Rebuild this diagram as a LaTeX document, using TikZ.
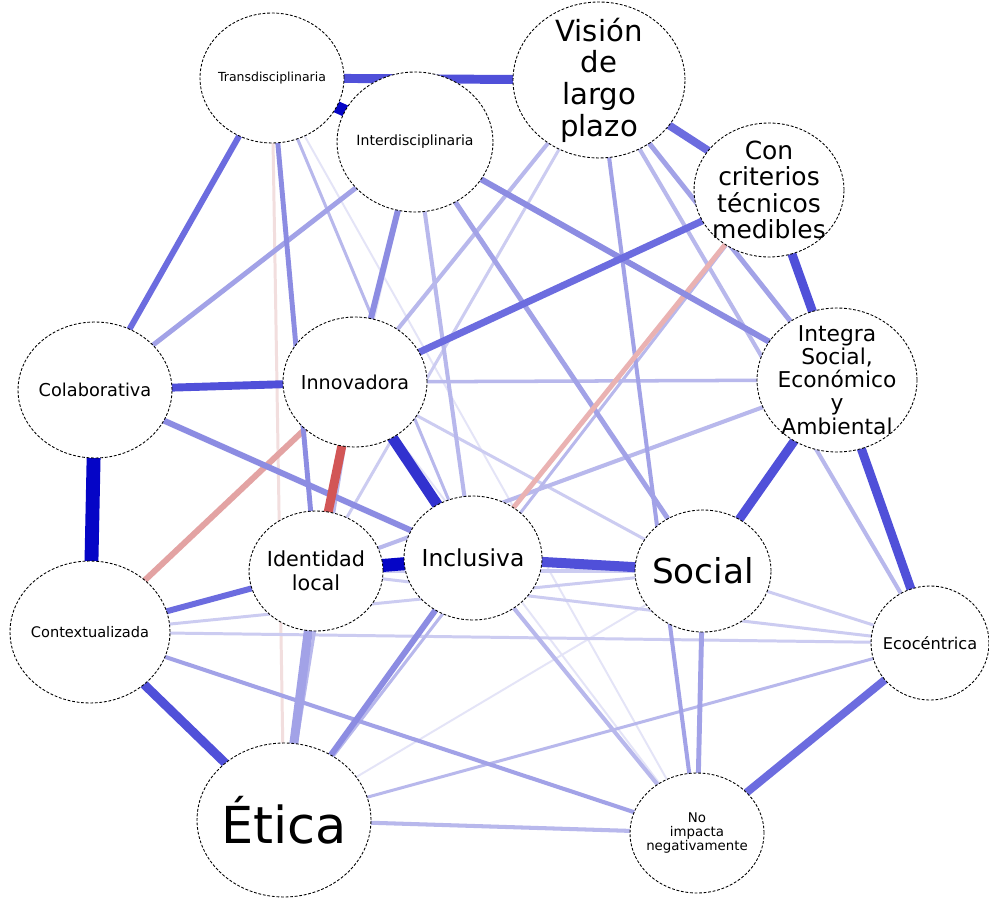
\documentclass[tikz,border=0pt]{standalone}
\usepackage{fontspec}
\setmainfont{DejaVu Sans}
\usetikzlibrary{shapes.geometric,backgrounds}
\definecolor{vfaint}{HTML}{E4E4F7}
\definecolor{faint}{HTML}{CCCCF1}
\definecolor{light}{HTML}{B8B8EC}
\definecolor{midl}{HTML}{A2A2E7}
\definecolor{mid}{HTML}{8C8CE2}
\definecolor{strA}{HTML}{6C6CDF}
\definecolor{strB}{HTML}{5050D9}
\definecolor{strC}{HTML}{3232CF}
\definecolor{deep}{HTML}{0505C6}
\definecolor{redS}{HTML}{D25656}
\definecolor{redM}{HTML}{E3A3A3}
\definecolor{redL}{HTML}{EAB2B2}
\definecolor{redF}{HTML}{F2DEDE}
\tikzset{
  nd/.style={ellipse, draw=black, line width=0.5pt, dash pattern=on 1.6pt off 1pt, fill=white, inner sep=0pt},
  lbl/.style={align=center, inner sep=0pt, text=black},
  ed/.style 2 args={line width=#1, draw=#2}
}
\begin{document}
\begin{tikzpicture}[x=0.02cm,y=-0.02cm]
\useasboundingbox (0,0) rectangle (989,898);
% nodes
\node[nd, minimum width=2.88cm, minimum height=2.60cm] (trans) at (272,78) {};
\node[nd, minimum width=3.44cm, minimum height=3.12cm] (vision) at (599,80) {};
\node[nd, minimum width=3.12cm, minimum height=2.80cm] (inter) at (415,142) {};
\node[nd, minimum width=3.00cm, minimum height=2.68cm] (con) at (769,190) {};
\node[nd, minimum width=3.08cm, minimum height=2.72cm] (colab) at (95,390) {};
\node[nd, minimum width=2.88cm, minimum height=2.60cm] (innov) at (355,382) {};
\node[nd, minimum width=3.20cm, minimum height=2.88cm] (integra) at (837,380) {};
\node[nd, minimum width=2.68cm, minimum height=2.40cm] (ident) at (316,571) {};
\node[nd, minimum width=2.76cm, minimum height=2.48cm] (incl) at (473,558) {};
\node[nd, minimum width=2.72cm, minimum height=2.44cm] (social) at (703,571) {};
\node[nd, minimum width=3.20cm, minimum height=2.84cm] (context) at (90,632) {};
\node[nd, minimum width=2.36cm, minimum height=2.28cm] (eco) at (930,643) {};
\node[nd, minimum width=3.48cm, minimum height=3.08cm] (etica) at (284,820) {};
\node[nd, minimum width=2.68cm, minimum height=2.40cm] (noimp) at (697,833) {};
% labels
\node[lbl, font=\fontsize{7.1pt}{8pt}\selectfont] (trans-t) at (trans) {Transdisciplinaria};
\node[lbl, font=\fontsize{16.6pt}{18pt}\selectfont] (vision-t) at (vision) {Visión\\de\\largo\\plazo};
\node[lbl, font=\fontsize{8pt}{9pt}\selectfont] (inter-t) at (inter) {Interdisciplinaria};
\node[lbl, font=\fontsize{14.2pt}{15.1pt}\selectfont] (con-t) at (con) {Con\\criterios\\técnicos\\medibles};
\node[lbl, font=\fontsize{10.1pt}{11pt}\selectfont] (colab-t) at (colab) {Colaborativa};
\node[lbl, font=\fontsize{10.9pt}{12pt}\selectfont] (innov-t) at (innov) {Innovadora};
\node[lbl, font=\fontsize{12.4pt}{13.2pt}\selectfont] (integra-t) at (integra) {Integra\\Social,\\Económico\\y\\Ambiental};
\node[lbl, font=\fontsize{11.8pt}{13.5pt}\selectfont] (ident-t) at (ident) {Identidad\\local};
\node[lbl, font=\fontsize{13.3pt}{14pt}\selectfont] (incl-t) at (incl) {Inclusiva};
\node[lbl, font=\fontsize{19.5pt}{21pt}\selectfont] (social-t) at (social) {Social};
\node[lbl, font=\fontsize{8.3pt}{9pt}\selectfont] (context-t) at (context) {Contextualizada};
\node[lbl, font=\fontsize{9.2pt}{10pt}\selectfont] (eco-t) at (eco) {Ecocéntrica};
\node[lbl, font=\fontsize{29pt}{31pt}\selectfont] (etica-t) at (etica) {Ética};
\node[lbl, font=\fontsize{7.6pt}{8pt}\selectfont] (noimp-t) at (noimp) {No\\impacta\\negativamente};
% edges
\begin{pgfonlayer}{background}
\fill[white] (0,0) rectangle (989,898);
% very faint
\draw[ed={1.1pt}{vfaint}] (innov.center) -- (noimp.center);
\draw[ed={1.1pt}{vfaint}] (trans.center) -- (noimp.center);
\draw[ed={1.1pt}{vfaint}] (social.center) -- (etica.center);
\draw[ed={1.1pt}{vfaint}] (inter.center) -- (ident.center);
\draw[ed={1.7pt}{redF}] (trans.center) -- (etica.center);
% faint
\draw[ed={1.7pt}{faint}] (context.center) -- (eco.center);
\draw[ed={1.7pt}{faint}] (context.center) -- (social.center);
\draw[ed={1.7pt}{faint}] (social.center) -- (eco.center);
\draw[ed={1.7pt}{faint}] (ident.center) -- (eco.center);
\draw[ed={1.7pt}{faint}] (innov.center) -- (social.center);
\draw[ed={1.7pt}{faint}] (vision.center) -- (ident.center);
\draw[ed={2.0pt}{faint}] (ident.center) -- (social.center);
% light
\draw[ed={1.7pt}{light}] (con.center) -- (etica.center);
\draw[ed={1.7pt}{light}] (trans.center) -- (incl.center);
\draw[ed={1.7pt}{light}] (etica.center) -- (eco.center);
\draw[ed={1.7pt}{light}] (innov.center) -- (etica.center);
\draw[ed={2.0pt}{light}] (innov.center) -- (integra.center);
\draw[ed={2.3pt}{light}] (inter.center) -- (incl.center);
\draw[ed={2.3pt}{light}] (ident.center) -- (integra.center);
\draw[ed={2.3pt}{light}] (vision.center) -- (innov.center);
\draw[ed={2.3pt}{light}] (etica.center) -- (noimp.center);
\draw[ed={2.3pt}{light}] (incl.center) -- (noimp.center);
\draw[ed={2.3pt}{light}] (vision.center) -- (eco.center);
% medium light
\draw[ed={2.8pt}{midl}] (vision.center) -- (integra.center);
\draw[ed={2.3pt}{midl}] (vision.center) -- (noimp.center);
\draw[ed={2.8pt}{midl}] (inter.center) -- (social.center);
\draw[ed={2.8pt}{midl}] (social.center) -- (noimp.center);
\draw[ed={2.3pt}{midl}] (context.center) -- (noimp.center);
\draw[ed={2.8pt}{midl}] (inter.center) -- (colab.center);
% red, light
\draw[ed={3.4pt}{redM}] (context.center) -- (innov.center);
\draw[ed={2.8pt}{redL}] (con.center) -- (incl.center);
% medium
\draw[ed={5.1pt}{midl}] (ident.center) -- (etica.center);
\draw[ed={3.4pt}{mid}] (inter.center) -- (innov.center);
\draw[ed={2.8pt}{mid}] (trans.center) -- (ident.center);
\draw[ed={3.4pt}{mid}] (colab.center) -- (incl.center);
\draw[ed={3.4pt}{mid}] (inter.center) -- (integra.center);
\draw[ed={3.4pt}{mid}] (incl.center) -- (etica.center);
% strong
\draw[ed={3.4pt}{strA}] (trans.center) -- (colab.center);
\draw[ed={3.4pt}{strA}] (context.center) -- (ident.center);
\draw[ed={4.0pt}{strA}] (innov.center) -- (con.center);
\draw[ed={4.5pt}{strA}] (eco.center) -- (noimp.center);
\draw[ed={4.5pt}{strA}] (vision.center) -- (con.center);
\draw[ed={4.5pt}{strB}] (colab.center) -- (innov.center);
\draw[ed={5.1pt}{strB}] (trans.center) -- (vision.center);
\draw[ed={5.1pt}{strB}] (context.center) -- (etica.center);
\draw[ed={5.1pt}{strB}] (integra.center) -- (eco.center);
\draw[ed={5.1pt}{strB}] (con.center) -- (integra.center);
\draw[ed={5.1pt}{strB}] (integra.center) -- (social.center);
\draw[ed={5.7pt}{strB}] (incl.center) -- (social.center);
\draw[ed={5.1pt}{redS}] (innov.center) -- (ident.center);
\draw[ed={6.2pt}{strC}] (innov.center) -- (incl.center);
\draw[ed={6.8pt}{deep}] (trans.center) -- (inter.center);
\draw[ed={7.4pt}{deep}] (ident.center) -- (incl.center);
\draw[ed={7.9pt}{deep}] (colab.center) -- (context.center);
\end{pgfonlayer}
\end{tikzpicture}
\end{document}
